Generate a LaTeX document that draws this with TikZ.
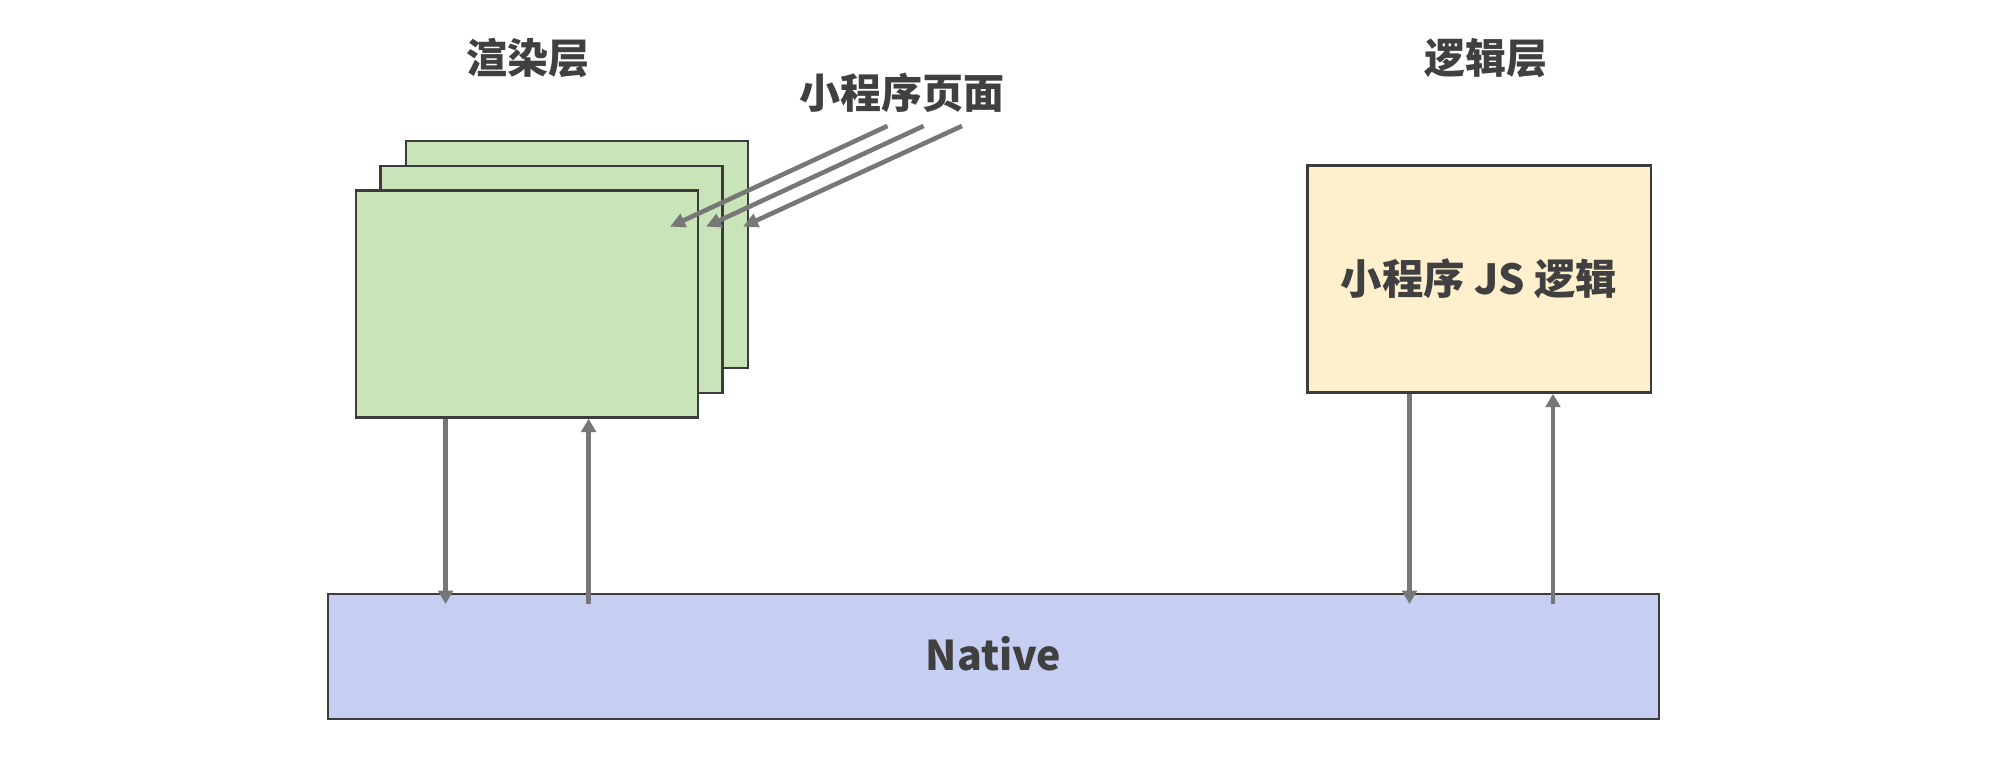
\documentclass[tikz,border=0pt]{standalone}
\usepackage{fontspec}
\setmainfont{Noto Sans CJK SC}
\usetikzlibrary{arrows.meta}
\definecolor{pagegreen}{HTML}{C9E4B8}
\definecolor{jsyellow}{HTML}{FFF0CD}
\definecolor{nativeblue}{HTML}{C6CEF1}
\definecolor{edgegray}{HTML}{3C3C3C}
\definecolor{txtgray}{HTML}{404040}
\definecolor{flowgray}{HTML}{777777}
\tikzset{
  layerbox/.style={draw=edgegray, line width=1.25pt, inner sep=0pt,
    minimum width=171pt, minimum height=113.5pt},
  boxtext/.style={text=txtgray, font=\fontsize{20.7pt}{24pt}\selectfont\bfseries},
  labeltext/.style={text=txtgray, font=\fontsize{20.5pt}{24pt}\selectfont\bfseries, inner sep=0pt},
  vflow/.style={draw=flowgray, line width=2.2pt, -{Triangle[length=6.7pt,width=7.3pt]}},
  dflow/.style={draw=flowgray, line width=2.3pt, -{Triangle[length=7.5pt,width=7pt]}}
}
\begin{document}
\begin{tikzpicture}[x=0.5pt,y=-0.5pt]
\useasboundingbox (0,0) rectangle (2002,764);
% render layer pages
\node[layerbox, fill=pagegreen] (back) at (577,254.5) {};
\node[layerbox, fill=pagegreen] (middle) at (551.5,279.5) {};
\node[layerbox, fill=pagegreen] (front) at (527.2,304) {};
% logic layer
\node[layerbox, fill=jsyellow, minimum width=171.75pt] (logic) at (1479,279) {};
\node[boxtext] (logictext) at (logic.center) {小程序 JS 逻辑};
% native
\node[draw=edgegray, line width=1.25pt, fill=nativeblue, inner sep=0pt,
  minimum width=665.5pt, minimum height=62.5pt] (native) at (993.5,656.5) {};
\node[boxtext, font=\fontsize{20.5pt}{24pt}\selectfont\bfseries, yshift=1.5pt] (nativetext) at (native.center) {Native};
% labels
\node[labeltext] (render) at (528,58) {渲染层};
\node[labeltext] (logiclabel) at (1486,58) {逻辑层};
\node[labeltext] (pages) at (902,92.5) {小程序页面};
% arrows from the label to the pages
\coordinate (s1) at (887.5,126); \coordinate (e1) at (670,226.7);
\coordinate (s2) at (923.6,126); \coordinate (e2) at (706,226.7);
\coordinate (s3) at (962,126);   \coordinate (e3) at (743,226.7);
\draw[dflow] (s1) -- (e1);
\draw[dflow] (s2) -- (e2);
\draw[dflow] (s3) -- (e3);
% vertical flows
\coordinate (r1) at (445.6,604);
\coordinate (r2) at (588.6,604);
\coordinate (l1) at (1409.5,604);
\coordinate (l2) at (1553,604);
\draw[vflow] (front.south -| r1) -- (r1);
\draw[vflow] (r2) -- (front.south -| r2);
\draw[vflow] (logic.south -| l1) -- (l1);
\draw[vflow] (l2) -- (logic.south -| l2);
\end{tikzpicture}
\end{document}
